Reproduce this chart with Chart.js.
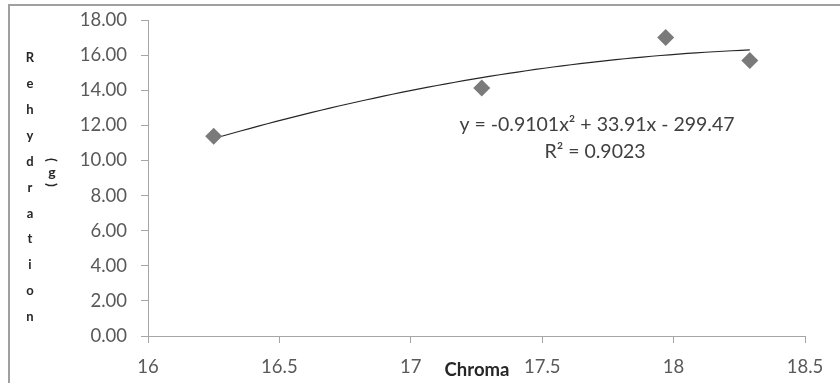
<!DOCTYPE html>
<html>
<head>
<meta charset="utf-8">
<title>Rehydration vs Chroma</title>
<script src="https://cdn.jsdelivr.net/npm/chart.js@4.4.1/dist/chart.umd.min.js"></script>
<style>
  html, body { margin: 0; padding: 0; background: #fff; }
  #wrap { width: 840px; height: 383px; }
</style>
</head>
<body>
<div id="wrap"><canvas id="rehydChart" width="840" height="383"></canvas></div>
<script>
  // measured samples
  const chroma = [16.25, 17.27, 17.97, 18.29];
  const rehydration = [11.38, 14.12, 17.0, 15.7];

  // polynomial trendline coefficients (a x^2 + b x + c) and fit quality
  const trendCoef = [-0.9101, 33.91, -299.47];
  const rSquared = 0.9023;

  const xTicks = [16, 16.5, 17, 17.5, 18, 18.5];
  const yTicks = [0, 2, 4, 6, 8, 10, 12, 14, 16, 18];

  const FONT = 'Lato, "Open Sans", sans-serif';
  const TEXT = '#595959';
  const AXIS = '#a6a6a6';

  // trend curve across the measured range
  const trend = [];
  const lo = Math.min(...chroma), hi = Math.max(...chroma);
  for (let i = 0; i <= 60; i++) {
    const x = lo + (hi - lo) * i / 60;
    trend.push({ x: x, y: trendCoef[0] * x * x + trendCoef[1] * x + trendCoef[2] });
  }

  const eqText = 'y = ' + trendCoef[0] + 'x\u00B2 + ' + trendCoef[1] + 'x - ' + Math.abs(trendCoef[2]);
  const r2Text = 'R\u00B2 = ' + rSquared;

  // frame, stacked y title and equation label
  const decorations = {
    id: 'decorations',
    afterDraw(chart) {
      const ctx = chart.ctx;
      ctx.save();
      ctx.strokeStyle = '#a0a0a0';
      ctx.lineWidth = 2;
      ctx.strokeRect(9, 5, 900, 450);

      ctx.fillStyle = '#262626';
      ctx.font = 'bold 13px ' + FONT;
      ctx.textAlign = 'center';
      ctx.textBaseline = 'middle';
      const word = 'Rehydration';
      for (let i = 0; i < word.length; i++) {
        ctx.fillText(word[i], 30, 58 + i * 25.9);
      }
      // "(g)" stacked: parens turned sideways, letter upright
      ctx.font = 'bold 14px ' + FONT;
      ctx.fillText('g', 52, 172);
      [['(', 160], [')', 185]].forEach(([ch, y]) => {
        ctx.save();
        ctx.translate(52, y);
        ctx.rotate(Math.PI / 2);
        ctx.fillText(ch, 0, 0);
        ctx.restore();
      });
      ctx.restore();

      ctx.save();
      ctx.fillStyle = '#404040';
      ctx.font = '19.5px ' + FONT;
      ctx.textAlign = 'center';
      ctx.textBaseline = 'middle';
      ctx.fillText(eqText, 597, 125);
      ctx.fillText(r2Text, 595, 152);

      ctx.font = 'bold 18.5px ' + FONT;
      ctx.fillStyle = '#262626';
      ctx.fillText('Chroma', 477, 370);
      ctx.restore();
    }
  };

  new Chart(document.getElementById('rehydChart'), {
    type: 'scatter',
    data: {
      datasets: [{
        label: 'Rehydration',
        data: chroma.map((x, i) => ({ x: x, y: rehydration[i] })),
        pointStyle: 'rectRot',
        pointRadius: 8.5,
        pointHoverRadius: 8.5,
        backgroundColor: '#7a7a7a',
        borderColor: '#7a7a7a',
        borderWidth: 0,
        order: 1
      }, {
        label: 'Trend',
        type: 'line',
        data: trend,
        borderColor: '#262626',
        borderWidth: 1.2,
        pointRadius: 0,
        fill: false,
        tension: 0,
        order: 2
      }]
    },
    options: {
      responsive: false,
      animation: false,
      layout: { padding: { top: 20, right: 35, left: 0, bottom: 0 } },
      plugins: {
        legend: { display: false },
        tooltip: { enabled: false }
      },
      scales: {
        x: {
          type: 'linear',
          min: xTicks[0],
          max: xTicks[xTicks.length - 1],
          afterBuildTicks: s => { s.ticks = xTicks.map(v => ({ value: v })); },
          afterFit: s => { s.height = 47; s.paddingLeft = 0; s.paddingRight = 0; },
          grid: { drawOnChartArea: false, drawTicks: true, tickLength: 7, color: AXIS },
          border: { display: true, color: AXIS, width: 1 },
          ticks: {
            color: TEXT,
            font: { family: FONT, size: 18.5 },
            padding: 13,
            maxRotation: 0,
            callback: v => v.toString()
          }
        },
        y: {
          min: yTicks[0],
          max: yTicks[yTicks.length - 1],
          afterBuildTicks: s => { s.ticks = yTicks.map(v => ({ value: v })); },
          afterFit: s => { s.width = 148; s.paddingTop = 0; s.paddingBottom = 0; },
          grid: { drawOnChartArea: false, drawTicks: true, tickLength: 7, color: AXIS },
          border: { display: true, color: AXIS, width: 1 },
          ticks: {
            color: TEXT,
            font: { family: FONT, size: 18.5 },
            padding: 14,
            callback: v => v.toFixed(2)
          }
        }
      }
    },
    plugins: [decorations]
  });
</script>
</body>
</html>
